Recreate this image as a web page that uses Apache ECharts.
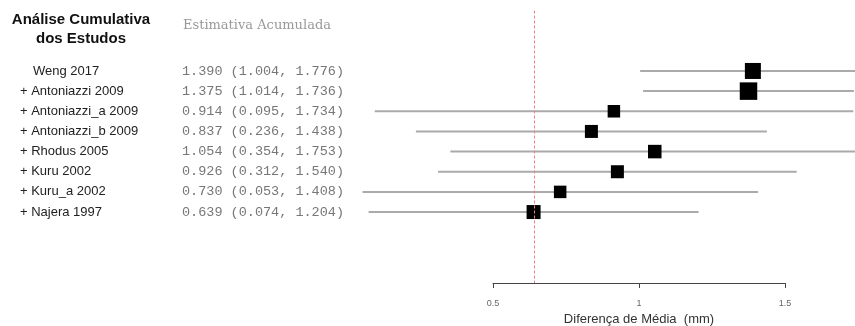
<!DOCTYPE html>
<html><head><meta charset="utf-8">
<script src="https://cdn.jsdelivr.net/npm/echarts@6/dist/echarts.min.js"></script>
<style>html,body{margin:0;padding:0;background:#fff}#c{width:855px;height:326px}</style>
</head><body><div id="c"></div>
<script>
const studies = ['Weng 2017','Antoniazzi 2009','Antoniazzi_a 2009','Antoniazzi_b 2009','Rhodus 2005','Kuru 2002','Kuru_a 2002','Najera 1997'];
const estimates = [1.390,1.375,0.914,0.837,1.054,0.926,0.730,0.639];
const lower = [1.004,1.014,0.095,0.236,0.354,0.312,0.053,0.074];
const upper = [1.776,1.736,1.734,1.438,1.753,1.540,1.408,1.204];
const weights = [16,17.5,12.5,13,13.5,13,12.5,14];
const xTicks = [0.5,1,1.5];
const pooled = estimates[estimates.length-1];

const fmt = v => v.toFixed(3);
const data = studies.map((s,i)=>[estimates[i], i, lower[i], upper[i], weights[i]]);

const chart = echarts.init(document.getElementById('c'), null, {renderer:'canvas'});
chart.setOption({
  animation:false,
  grid:{left:493, width:292, top:10.5, bottom:43, containLabel:false, outerBoundsMode:'none'},
  xAxis:{type:'value', min:xTicks[0], max:xTicks[xTicks.length-1], interval:0.5,
    axisLine:{show:true, onZero:false, lineStyle:{color:'#444', width:1}},
    axisTick:{show:true, length:5, lineStyle:{color:'#444'}},
    splitLine:{show:false},
    axisLabel:{fontSize:9, color:'#666', margin:16, fontFamily:'Liberation Sans',
      formatter: v => xTicks.includes(v) ? String(v) : ''},
    name:'Diferença de Média  (mm)', nameLocation:'middle', nameGap:28,
    nameTextStyle:{fontSize:13, color:'#333', fontFamily:'Liberation Sans'}},
  yAxis:{type:'value', inverse:true, min:-3, max:10.52, show:false},
  graphic:[
    {type:'text', x:81, y:20, style:{text:'Análise Cumulativa', fill:'#111', font:'bold 15px "Liberation Sans"', align:'center', verticalAlign:'middle'}},
    {type:'text', x:81, y:39, style:{text:'dos Estudos', fill:'#111', font:'bold 15px "Liberation Sans"', align:'center', verticalAlign:'middle'}},
    {type:'text', x:183, y:26, style:{text:'Estimativa Acumulada', fill:'#999', font:'13px "DejaVu Serif"', align:'left', verticalAlign:'middle'}}
  ],
  series:[{
    type:'custom', clip:false, data:data,
    renderItem:(params, api)=>{
      const i = api.value(1);
      const c = api.coord([api.value(0), i]);
      const l = api.coord([api.value(2), i]);
      const u = api.coord([api.value(3), i]);
      const s = api.value(4);
      const idx = params.dataIndex;
      const name = (idx>0 ? '+ ' : '') + studies[idx];
      const est = fmt(estimates[idx]) + ' (' + fmt(lower[idx]) + ', ' + fmt(upper[idx]) + ')';
      return {type:'group', children:[
        {type:'line', shape:{x1:l[0], y1:l[1], x2:u[0], y2:u[1]}, style:{stroke:'#aaa', lineWidth:2}},
        {type:'rect', shape:{x:c[0]-s/2, y:c[1]-s/2, width:s, height:s}, style:{fill:'#000'}},
        {type:'text', x: idx>0 ? 20 : 33, y:c[1], style:{text:name, fill:'#222', font:'13px "Liberation Sans"', verticalAlign:'middle'}},
        {type:'text', x:182, y:c[1], style:{text:est, fill:'#777', font:'13.5px "Liberation Mono"', verticalAlign:'middle'}}
      ]};
    },
    markLine:{silent:true, symbol:'none', label:{show:false},
      lineStyle:{color:'#f28080', type:[3,2], width:1},
      data:[{xAxis:pooled}]}
  }]
});
</script></body></html>
